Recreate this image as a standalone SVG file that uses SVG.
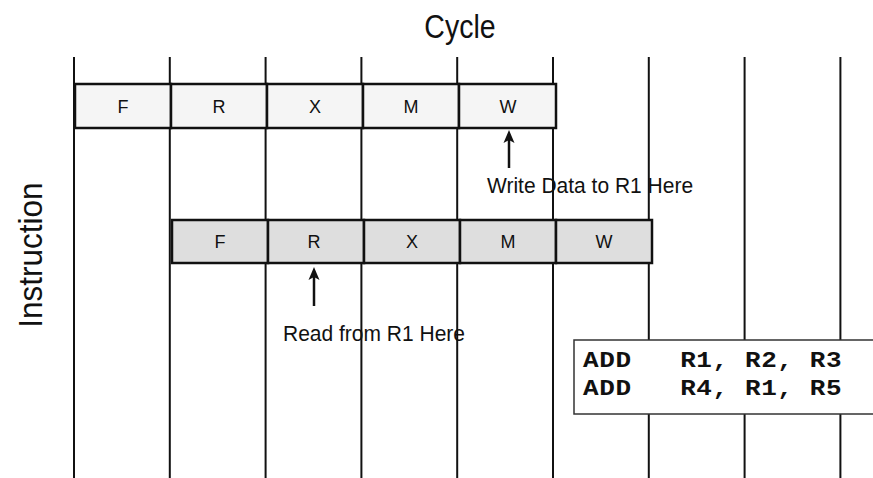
<svg xmlns="http://www.w3.org/2000/svg" width="873" height="478" viewBox="0 0 873 478">
<style>
.grid line{stroke:#111;stroke-width:2}
.c1{fill:#f5f5f5;stroke:#111;stroke-width:2.5}
.c2{fill:#dedede;stroke:#111;stroke-width:2.5}
.st{font-family:"Liberation Sans",Arial,sans-serif;font-size:18px;fill:#111;text-anchor:middle}
.lbl{font-family:"Liberation Sans",Arial,sans-serif;font-size:21px;fill:#111}
.title{font-family:"Liberation Sans",Arial,sans-serif;font-size:30px;fill:#111;text-anchor:middle}
.code{font-family:"Liberation Mono","Courier New",monospace;font-weight:bold;font-size:26px;letter-spacing:0.6px;fill:#111;white-space:pre}
.arr{stroke:#111;stroke-width:2.5;fill:none}
</style>
<rect width="873" height="478" fill="#fff"/>
<text class="title" transform="translate(460,38) scale(0.95,1.1)">Cycle</text>
<text class="title" transform="translate(42,255) rotate(-90) scale(1.05,1.1)">Instruction</text>
<g class="grid">
<line x1="74" y1="57" x2="74" y2="478"/>
<line x1="169.8" y1="57" x2="169.8" y2="478"/>
<line x1="265.6" y1="57" x2="265.6" y2="478"/>
<line x1="361.4" y1="57" x2="361.4" y2="478"/>
<line x1="457.2" y1="57" x2="457.2" y2="478"/>
<line x1="553" y1="57" x2="553" y2="478"/>
<line x1="648.8" y1="57" x2="648.8" y2="478"/>
<line x1="744.6" y1="57" x2="744.6" y2="478"/>
<line x1="840.4" y1="57" x2="840.4" y2="478"/>
</g>
<g id="instr1">
<rect class="c1" x="75" y="84" width="96" height="44"/>
<rect class="c1" x="171" y="84" width="96" height="44"/>
<rect class="c1" x="267" y="84" width="96" height="44"/>
<rect class="c1" x="363" y="84" width="96" height="44"/>
<rect class="c1" x="459" y="84" width="97" height="44"/>
<text class="st" x="123" y="113">F</text>
<text class="st" x="219" y="113">R</text>
<text class="st" x="315" y="113">X</text>
<text class="st" x="411" y="113">M</text>
<text class="st" x="508" y="113">W</text>
</g>
<g id="instr2">
<rect class="c2" x="172" y="220" width="96" height="43"/>
<rect class="c2" x="268" y="220" width="96" height="43"/>
<rect class="c2" x="364" y="220" width="96" height="43"/>
<rect class="c2" x="460" y="220" width="96" height="43"/>
<rect class="c2" x="556" y="220" width="96" height="43"/>
<text class="st" x="220" y="248">F</text>
<text class="st" x="314" y="248">R</text>
<text class="st" x="412" y="248">X</text>
<text class="st" x="508" y="248">M</text>
<text class="st" x="604" y="248">W</text>
</g>
<g id="connectors">
<line class="arr" x1="509" y1="168" x2="509" y2="138"/>
<path d="M509,130 L503.5,143 L509,140 L514.5,143 Z" fill="#111"/>
<line class="arr" x1="314" y1="306" x2="314" y2="275"/>
<path d="M314,267 L308.5,280 L314,277 L319.5,280 Z" fill="#111"/>
</g>
<g id="label-write"><text class="lbl" transform="translate(487,193) scale(1,1.08)">Write Data to R1 Here</text></g>
<g id="label-read"><text class="lbl" transform="translate(283,341) scale(1,1.08)">Read from R1 Here</text></g>
<g id="code">
<rect x="574" y="340" width="310" height="74" fill="#fff" stroke="#333" stroke-width="1.5"/>
<text class="code" transform="translate(583,367) scale(1,0.82)">ADD   R1, R2, R3</text>
<text class="code" transform="translate(583,395) scale(1,0.82)">ADD   R4, R1, R5</text>
</g>
</svg>
